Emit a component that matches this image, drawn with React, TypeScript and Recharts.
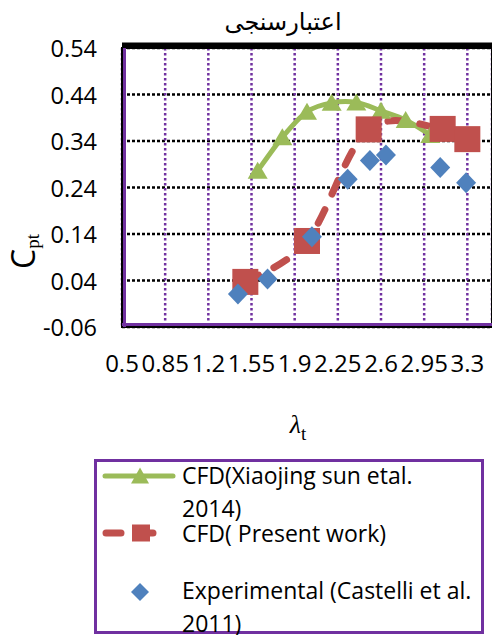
import React from "react";
import {
  CartesianGrid,
  ComposedChart,
  Label,
  Line,
  ReferenceArea,
  ReferenceLine,
  Scatter,
  XAxis,
  YAxis,
} from "recharts";

const PURPLE = "#7030A0";
const GREEN = "#9BBB59";
const RED = "#C0504D";
const BLUE = "#4F81BD";
const FONT = "'Open Sans', sans-serif";

const lambdaTicks = [0.5, 0.85, 1.2, 1.55, 1.9, 2.25, 2.6, 2.95, 3.3];
const cptTicks = [-0.06, 0.04, 0.14, 0.24, 0.34, 0.44, 0.54];
const lambdaMinor = [
  0.5, 0.57, 0.64, 0.71, 0.78, 0.85, 0.92, 0.99, 1.06, 1.13, 1.2, 1.27, 1.34,
  1.41, 1.48, 1.55, 1.62, 1.69, 1.76, 1.83, 1.9, 1.97, 2.04, 2.11, 2.18, 2.25,
  2.32, 2.39, 2.46, 2.53, 2.6, 2.67, 2.74, 2.81, 2.88, 2.95, 3.02, 3.09, 3.16,
  3.23, 3.3, 3.37, 3.44,
];
const cptMinor = [
  -0.06, -0.04, -0.02, 0, 0.02, 0.04, 0.06, 0.08, 0.1, 0.12, 0.14, 0.16, 0.18,
  0.2, 0.22, 0.24, 0.26, 0.28, 0.3, 0.32, 0.34, 0.36, 0.38, 0.4, 0.42, 0.44,
  0.46, 0.48, 0.5, 0.52, 0.54,
];

// CFD (Xiaojing sun et al. 2014)
const sunLambda = [1.6, 1.8, 2.0, 2.2, 2.4, 2.6, 2.8, 3.0];
const sunCpt = [0.276, 0.348, 0.403, 0.422, 0.423, 0.405, 0.385, 0.353];

// CFD (present work)
const presentLambda = [1.5, 2.0, 2.5, 3.1, 3.3];
const presentCpt = [0.037, 0.125, 0.365, 0.366, 0.344];

// Experimental (Castelli et al. 2011)
const expLambda = [1.44, 1.68, 2.04, 2.33, 2.51, 2.64, 3.08, 3.29];
const expCpt = [0.011, 0.043, 0.134, 0.258, 0.298, 0.31, 0.283, 0.25];

const sunData = sunLambda.map((x, i) => ({ x, y: sunCpt[i] }));
const presentData = presentLambda.map((x, i) => ({ x, y: presentCpt[i] }));
const expData = expLambda.map((x, i) => ({ x, y: expCpt[i] }));

// excel style smoothed line (catmull-rom as bezier)
function excelSmooth(context: any) {
  let pts: number[][] = [];
  return {
    areaStart() {},
    areaEnd() {},
    lineStart() {
      pts = [];
    },
    point(x: number, y: number) {
      pts.push([+x, +y]);
    },
    lineEnd() {
      if (!pts.length) return;
      context.moveTo(pts[0][0], pts[0][1]);
      for (let i = 0; i < pts.length - 1; i++) {
        const p0 = pts[i - 1] || pts[i];
        const p1 = pts[i];
        const p2 = pts[i + 1];
        const p3 = pts[i + 2] || p2;
        context.bezierCurveTo(
          p1[0] + (p2[0] - p0[0]) / 6,
          p1[1] + (p2[1] - p0[1]) / 6,
          p2[0] - (p3[0] - p1[0]) / 6,
          p2[1] - (p3[1] - p1[1]) / 6,
          p2[0],
          p2[1]
        );
      }
    },
  };
}

const renderTriangle = (p: any) => {
  const { cx, cy, index } = p;
  if (cx == null || cy == null) return <g key={`t${index}`} />;
  return (
    <polygon
      key={`t${index}`}
      points={`${cx},${cy - 9} ${cx + 10},${cy + 8} ${cx - 10},${cy + 8}`}
      fill={GREEN}
    />
  );
};

const renderSquare = (p: any) => {
  const { cx, cy, index } = p;
  if (cx == null || cy == null) return <g key={`s${index}`} />;
  return (
    <rect key={`s${index}`} x={cx - 13} y={cy - 13} width={26} height={26} fill={RED} />
  );
};

const renderDiamond = (p: any) => {
  const { cx, cy } = p;
  if (cx == null || cy == null) return <g />;
  return (
    <polygon
      points={`${cx},${cy - 10.5} ${cx + 10},${cy} ${cx},${cy + 10.5} ${cx - 10},${cy}`}
      fill={BLUE}
    />
  );
};

const renderXTick = (p: any) => (
  <text
    x={p.x}
    y={p.y}
    textAnchor="middle"
    dominantBaseline="central"
    fontFamily={FONT}
    fontSize={24}
    fill="#000"
  >
    {String(p.payload.value)}
  </text>
);

const renderYTick = (p: any) => (
  <text
    x={p.x}
    y={p.y}
    textAnchor="end"
    dominantBaseline="central"
    fontFamily={FONT}
    fontSize={23.5}
    fill="#000"
  >
    {Number(p.payload.value).toFixed(2)}
  </text>
);

const renderYLabel = ({ viewBox }: any) => {
  const cx = viewBox.x + 35;
  const cy = viewBox.y + viewBox.height / 2 + 64;
  return (
    <text x={cx} y={cy} textAnchor="middle" transform={`rotate(-90 ${cx} ${cy})`} fill="#000">
      <tspan fontFamily={FONT} fontSize={32}>
        C
      </tspan>
      <tspan fontFamily="'Liberation Serif', serif" fontSize={19} dy={4}>
        pt
      </tspan>
    </text>
  );
};

const renderXLabel = ({ viewBox }: any) => {
  const cx = viewBox.x + viewBox.width / 2 - 9;
  return (
    <text x={cx} y={433} textAnchor="middle" fill="#000">
      <tspan fontFamily="'Liberation Serif', serif" fontStyle="italic" fontSize={26}>
        λ
      </tspan>
      <tspan fontFamily="'Liberation Serif', serif" fontSize={19} dy={7}>
        t
      </tspan>
    </text>
  );
};

function LegendBox() {
  const text: React.CSSProperties = {
    position: "absolute",
    left: 85,
    fontFamily: FONT,
    fontSize: 23,
    lineHeight: "33px",
    whiteSpace: "nowrap",
    color: "#000",
  };
  return (
    <div
      style={{
        position: "absolute",
        left: 94,
        top: 459,
        width: 390,
        height: 175,
        boxSizing: "border-box",
        border: `3px solid ${PURPLE}`,
        background: "#fff",
      }}
    >
      <svg width={384} height={169} style={{ position: "absolute", left: 0, top: 0 }}>
        <line x1={8} x2={76} y1={14} y2={14} stroke={GREEN} strokeWidth={5} strokeLinecap="round" />
        <polygon points="43,5.5 52,21.5 34,21.5" fill={GREEN} />
        <line
          x1={9}
          x2={61}
          y1={71}
          y2={71}
          stroke={RED}
          strokeWidth={7}
          strokeDasharray="15 17"
          strokeLinecap="round"
        />
        <rect x={35} y={62.5} width={18} height={17} fill={RED} />
        <polygon points="43,121 52,130 43,139 34,130" fill={BLUE} />
      </svg>
      <div style={{ ...text, top: -3.5 }}>
        CFD(Xiaojing sun etal.
        <br />
        2014)
      </div>
      <div style={{ ...text, top: 54.5 }}>CFD( Present work)</div>
      <div style={{ ...text, top: 111.5 }}>
        Experimental (Castelli et al.
        <br />
        2011)
      </div>
    </div>
  );
}

export default function App() {
  return (
    <div
      style={{
        position: "fixed",
        left: 0,
        top: 0,
        width: 492,
        height: 635,
        overflow: "hidden",
        background: "#fff",
      }}
    >
      <div
        style={{
          position: "absolute",
          left: 0,
          top: 8,
          width: 566,
          textAlign: "center",
          fontFamily: "'DejaVu Sans', sans-serif",
          fontSize: 24,
          color: "#000",
        }}
      >
        اعتبارسنجی
      </div>
      <div style={{ position: "absolute", left: 0, top: 0 }}>
        <ComposedChart
          width={492}
          height={635}
          margin={{ top: 48, right: 0, bottom: 248, left: 0 }}
        >
          <CartesianGrid
            vertical={false}
            stroke="#000"
            strokeWidth={2.5}
            strokeDasharray="3 2"
          />
          <CartesianGrid
            horizontal={false}
            stroke={PURPLE}
            strokeWidth={2.5}
            strokeDasharray="2.5 2.5"
          />
          <ReferenceArea
            x1={0.5}
            x2={3.5}
            y1={-0.06}
            y2={0.54}
            fill="none"
            stroke="#000"
            strokeWidth={2}
            ifOverflow="visible"
          />
          <ReferenceLine
            y={0.54}
            stroke="#000"
            strokeWidth={5}
            transform="translate(0,-3)"
            ifOverflow="visible"
          />
          <XAxis
            dataKey="x"
            type="number"
            domain={[0.5, 3.5]}
            ticks={lambdaTicks}
            interval={0}
            height={60}
            tickSize={0}
            tickMargin={35}
            tickLine={false}
            axisLine={{ stroke: PURPLE, strokeWidth: 3, transform: "translate(0,-2.5)" }}
            tick={renderXTick}
            allowDataOverflow
          >
            <Label content={renderXLabel} />
          </XAxis>
          <XAxis
            xAxisId="minor"
            type="number"
            domain={[0.5, 3.5]}
            ticks={lambdaMinor}
            interval={0}
            mirror
            tickSize={8}
            tick={false}
            axisLine={false}
            tickLine={{ stroke: PURPLE, strokeWidth: 2 }}
            allowDataOverflow
          />
          <YAxis
            dataKey="y"
            type="number"
            domain={[-0.06, 0.54]}
            ticks={cptTicks}
            interval={0}
            width={122}
            tickSize={0}
            tickMargin={25}
            tickLine={false}
            axisLine={{ stroke: PURPLE, strokeWidth: 3, transform: "translate(2.5,0)" }}
            tick={renderYTick}
            allowDataOverflow
          >
            <Label content={renderYLabel} />
          </YAxis>
          <YAxis
            yAxisId="minor"
            type="number"
            domain={[-0.06, 0.54]}
            ticks={cptMinor}
            interval={0}
            mirror
            tickSize={8}
            tick={false}
            axisLine={false}
            tickLine={{ stroke: PURPLE, strokeWidth: 2 }}
            allowDataOverflow
          />
          <Line
            data={sunData}
            dataKey="y"
            type={excelSmooth as any}
            stroke={GREEN}
            strokeWidth={5}
            dot={renderTriangle}
            activeDot={false}
            isAnimationActive={false}
          />
          <Line
            data={presentData}
            dataKey="y"
            type={excelSmooth as any}
            stroke={RED}
            strokeWidth={7}
            strokeDasharray="15 17"
            strokeLinecap="round"
            dot={renderSquare}
            activeDot={false}
            isAnimationActive={false}
          />
          <Scatter
            data={expData}
            dataKey="y"
            shape={renderDiamond}
            isAnimationActive={false}
          />
        </ComposedChart>
      </div>
      <LegendBox />
    </div>
  );
}
